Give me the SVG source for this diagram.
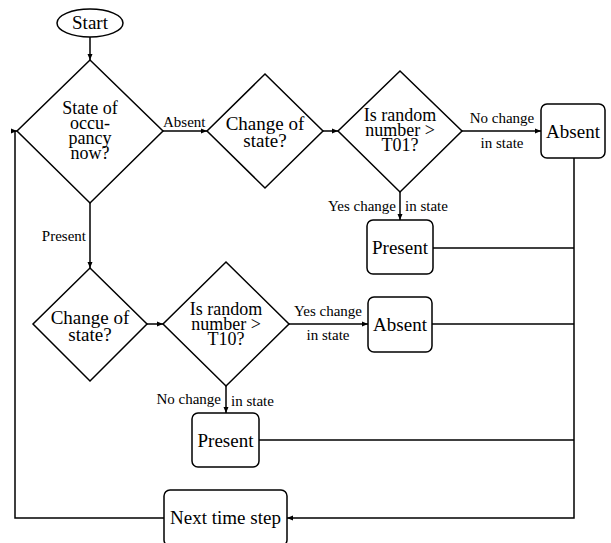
<svg xmlns="http://www.w3.org/2000/svg" width="611" height="543" viewBox="0 0 611 543">
<defs>
<marker id="arr" markerWidth="6" markerHeight="6" refX="6" refY="3" orient="auto" markerUnits="userSpaceOnUse">
<path d="M0,0.5 L6,3 L0,5.5 Z" fill="#000"/>
</marker>
<style>
.shape{fill:#fff;stroke:#000;stroke-width:1.5}
.ln{fill:none;stroke:#000;stroke-width:1.5}
.nt{font-family:"Liberation Serif","Times New Roman",serif;font-size:19px;fill:#000;text-anchor:middle}
.dt{font-size:18px}
.el{font-family:"Liberation Serif","Times New Roman",serif;font-size:15px;fill:#000}
</style>
</defs>
<rect width="611" height="543" fill="#fff"/>
<g id="connectors">
<path class="ln" d="M90,37 V60" marker-end="url(#arr)"/>
<path class="ln" d="M163,131 H207" marker-end="url(#arr)"/>
<path class="ln" d="M323,131 H338" marker-end="url(#arr)"/>
<path class="ln" d="M462,131 H541" marker-end="url(#arr)"/>
<path class="ln" d="M400,192 V220" marker-end="url(#arr)"/>
<path class="ln" d="M90,203 V268" marker-end="url(#arr)"/>
<path class="ln" d="M147,324 H163" marker-end="url(#arr)"/>
<path class="ln" d="M289,324 H368" marker-end="url(#arr)"/>
<path class="ln" d="M226,386 V413" marker-end="url(#arr)"/>
<path class="ln" d="M574,158 V518 H287" stroke-width="2" marker-end="url(#arr)"/>
<path class="ln" d="M433,248 H574"/>
<path class="ln" d="M432,324 H574"/>
<path class="ln" d="M259,440 H574"/>
<path class="ln" d="M164,518 H15 V131 H17" marker-end="url(#arr)"/>
<text class="el" x="163" y="127">Absent</text>
<text class="el" x="502" y="123" text-anchor="middle">No change</text>
<text class="el" x="502" y="148" text-anchor="middle">in state</text>
<text class="el" x="396" y="211" text-anchor="end">Yes change</text>
<text class="el" x="405" y="211">in state</text>
<text class="el" x="86" y="241" text-anchor="end">Present</text>
<text class="el" x="328" y="316" text-anchor="middle">Yes change</text>
<text class="el" x="328" y="340" text-anchor="middle">in state</text>
<text class="el" x="221" y="404" text-anchor="end">No change</text>
<text class="el" x="231" y="406">in state</text>
</g>
<g id="start">
<ellipse class="shape" cx="90" cy="23" rx="33" ry="14"/>
<text class="nt" x="90" y="29">Start</text>
</g>
<g id="state-of-occupancy">
<polygon class="shape" points="90,60 163,131 90,203 17,131"/>
<text class="nt dt" x="90" y="114">State of</text>
<text class="nt dt" x="90" y="129">occu-</text>
<text class="nt dt" x="90" y="144">pancy</text>
<text class="nt dt" x="90" y="159">now?</text>
</g>
<g id="change-of-state-1">
<polygon class="shape" points="265,74 323,131 265,188 207,131"/>
<text class="nt" x="265" y="130">Change of</text>
<text class="nt" x="265" y="147">state?</text>
</g>
<g id="random-t01">
<polygon class="shape" points="400,71 462,131 400,192 338,131"/>
<text class="nt dt" x="400" y="121">Is random</text>
<text class="nt dt" x="400" y="136">number &gt;</text>
<text class="nt dt" x="400" y="151">T01?</text>
</g>
<g id="absent-1">
<rect class="shape" x="541" y="104" width="64" height="54" rx="6"/>
<text class="nt" x="573" y="138">Absent</text>
</g>
<g id="present-1">
<rect class="shape" x="367" y="220" width="66" height="54" rx="6"/>
<text class="nt" x="400" y="254">Present</text>
</g>
<g id="change-of-state-2">
<polygon class="shape" points="90,268 147,324 90,381 33,324"/>
<text class="nt" x="90" y="324">Change of</text>
<text class="nt" x="90" y="341">state?</text>
</g>
<g id="random-t10">
<polygon class="shape" points="226,262 289,324 226,386 163,324"/>
<text class="nt dt" x="226" y="315">Is random</text>
<text class="nt dt" x="226" y="330">number &gt;</text>
<text class="nt dt" x="226" y="345">T10?</text>
</g>
<g id="absent-2">
<rect class="shape" x="368" y="297" width="64" height="55" rx="6"/>
<text class="nt" x="400" y="331">Absent</text>
</g>
<g id="present-2">
<rect class="shape" x="192" y="413" width="67" height="54" rx="6"/>
<text class="nt" x="225.5" y="447">Present</text>
</g>
<g id="next-time-step">
<rect class="shape" x="164" y="490" width="123" height="56" rx="6"/>
<text class="nt" x="225.5" y="524">Next time step</text>
</g>
</svg>
